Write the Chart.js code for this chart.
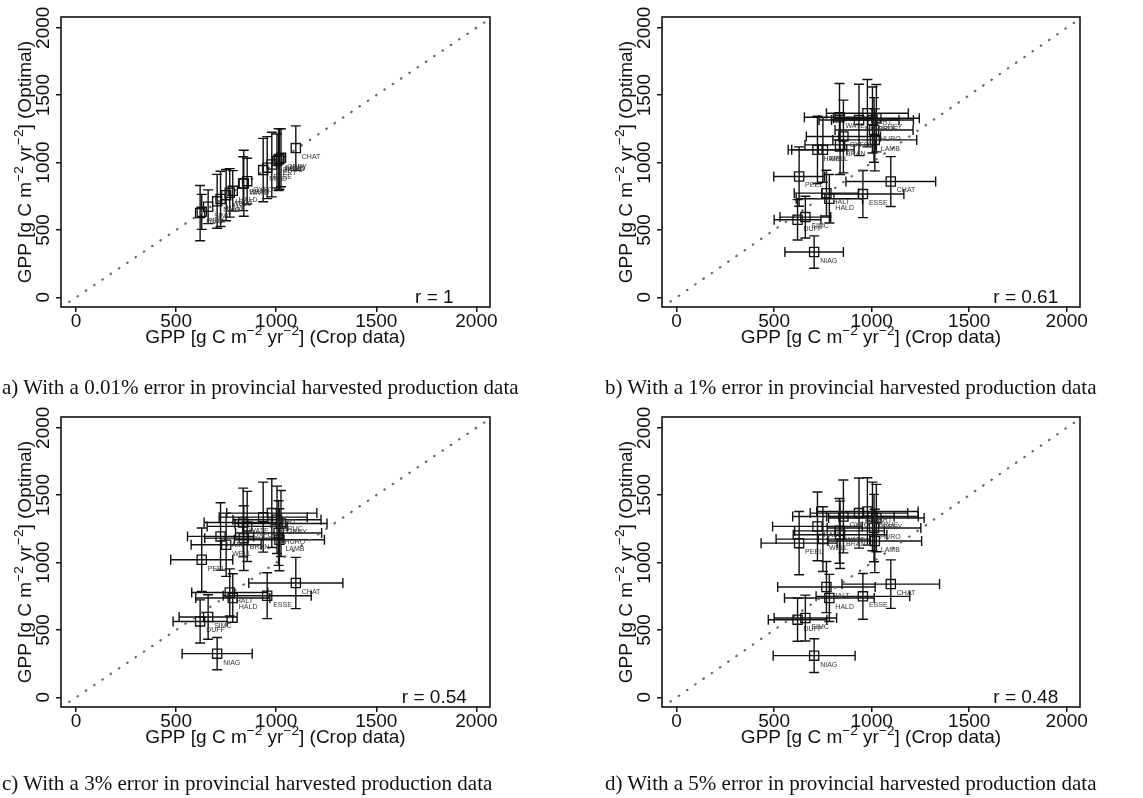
<!DOCTYPE html>
<html><head><meta charset="utf-8">
<script src="https://cdn.jsdelivr.net/npm/chart.js@4.4.0/dist/chart.umd.min.js"></script>
<style>
html,body{margin:0;padding:0;background:#fff;width:1143px;height:798px;overflow:hidden;position:relative}
canvas{position:absolute}
.cap{position:absolute;font-family:"Liberation Serif","Times New Roman",serif;font-size:21px;color:#111;white-space:nowrap;line-height:24px}
</style></head><body>
<canvas id="ca" style="left:0;top:0" width="565" height="398"></canvas>
<canvas id="cb" style="left:600px;top:0" width="543" height="398"></canvas>
<canvas id="cc" style="left:0;top:400px" width="565" height="398"></canvas>
<canvas id="cd" style="left:600px;top:400px" width="543" height="398"></canvas>
<script>
// ---- data ----
const sites = ['NIAG','DUFF','SIMC','PEEL','HALT','HALD','ESSE','CHAT','HAMI','WELL','BRAN','OXFO','WATE','MIDD','PERT','HURO','LAMB','BRUC','GREY'];
const cropX = [705,620,660,628,768,783,955,1098,722,750,838,855,835,935,978,1012,1016,1004,1024];
const optA = [712,625,672,634,775,790,962,1107,730,758,846,862,843,944,985,1022,1027,1012,1035];
const optB = [336,575,595,896,773,731,766,859,1094,1094,1131,1193,1336,1316,1366,1242,1168,1316,1329];
const optC = [324,563,596,1021,778,737,754,848,1194,1132,1181,1268,1297,1337,1367,1219,1169,1317,1290];
const optD = [309,576,588,1144,818,737,749,840,1268,1174,1206,1342,1235,1367,1379,1256,1160,1342,1330];
const xErrA = [0,0,0,0,0,0,0,0,0,0,0,0,0,0,0,0,0,0,0];
const yErrA = [200,205,125,130,180,150,230,165,205,190,245,170,200,235,240,230,225,200,215];
const xErrB = [150,120,130,130,165,170,210,230,150,160,180,190,180,205,210,200,215,210,220];
const yErrB = [120,150,155,220,170,180,175,185,250,240,220,270,250,265,250,240,230,245,250];
const xErrC = [175,135,145,155,190,185,220,235,165,175,195,200,195,220,225,215,225,220,230];
const yErrC = [120,160,165,235,175,180,170,190,250,235,240,260,255,260,255,240,230,250,245];
const xErrD = [210,150,160,195,250,230,240,250,230,240,240,260,230,250,260,240,240,235,245];
const yErrD = [125,160,170,235,190,175,170,180,255,240,250,270,240,260,250,250,235,255,250];
const xTicks = [0,500,1000,1500,2000];
const yTicks = [0,500,1000,1500,2000];
const rLabels = ['r = 1','r = 0.61','r = 0.54','r = 0.48'];
const captions = [
  'a) With a 0.01% error in provincial harvested production data',
  'b) With a 1% error in provincial harvested production data',
  'c) With a 3% error in provincial harvested production data',
  'd) With a 5% error in provincial harvested production data'
];
const oneToOne = [-200, 2200];

// ---- drawing helpers ----
const FONT = '"Liberation Sans", Arial, sans-serif';
const FS = 19;
function rich(ctx, parts, cx, cy, size) {
  let w = 0;
  parts.forEach(p => { ctx.font = (p.sup ? size*0.72 : size) + 'px ' + FONT; p.w = ctx.measureText(p.t).width; w += p.w; });
  let x = cx - w/2;
  ctx.textAlign = 'left'; ctx.textBaseline = 'alphabetic';
  parts.forEach(p => {
    ctx.font = (p.sup ? size*0.72 : size) + 'px ' + FONT;
    ctx.fillText(p.t, x, cy + size*0.36 - (p.sup ? size*0.42 : 0));
    x += p.w;
  });
}
const xTitle = [{t:'GPP [g C m'},{t:'\u22122',sup:1},{t:' yr'},{t:'\u22122',sup:1},{t:'] (Crop data)'}];
const yTitle = [{t:'GPP [g C m'},{t:'\u22122',sup:1},{t:' yr'},{t:'\u22122',sup:1},{t:'] (Optimal)'}];

const panelPlugin = {
  id: 'panel',
  beforeDatasetsDraw(chart) {
    const ctx = chart.ctx, ds = chart.data.datasets[1];
    const xs = chart.scales.x, ys = chart.scales.y, CAP = 5;
    ctx.save();
    ctx.strokeStyle = '#111'; ctx.lineWidth = 1.4;
    ds.data.forEach((p, i) => {
      const px = xs.getPixelForValue(p.x), py = ys.getPixelForValue(p.y);
      const ex = ds.errX[i], ey = ds.errY[i];
      ctx.beginPath();
      if (ey > 0) {
        const t = ys.getPixelForValue(p.y + ey), b = ys.getPixelForValue(p.y - ey);
        ctx.moveTo(px, t); ctx.lineTo(px, b);
        ctx.moveTo(px - CAP, t); ctx.lineTo(px + CAP, t);
        ctx.moveTo(px - CAP, b); ctx.lineTo(px + CAP, b);
      }
      if (ex > 0) {
        const l = xs.getPixelForValue(p.x - ex), r = xs.getPixelForValue(p.x + ex);
        ctx.moveTo(l, py); ctx.lineTo(r, py);
        ctx.moveTo(l, py - CAP); ctx.lineTo(l, py + CAP);
        ctx.moveTo(r, py - CAP); ctx.lineTo(r, py + CAP);
      }
      ctx.stroke();
    });
    ctx.restore();
  },
  afterDraw(chart) {
    const ctx = chart.ctx, ca = chart.chartArea;
    const xs = chart.scales.x, ys = chart.scales.y;
    const ds = chart.data.datasets[1];
    ctx.save();
    // box
    ctx.strokeStyle = '#111'; ctx.lineWidth = 1.6;
    ctx.strokeRect(ca.left, ca.top, ca.right - ca.left, ca.bottom - ca.top);
    // point labels
    ctx.fillStyle = '#333'; ctx.font = '7px ' + FONT;
    ctx.textAlign = 'left'; ctx.textBaseline = 'middle';
    ds.data.forEach((p, i) => {
      ctx.fillText(ds.names[i], xs.getPixelForValue(p.x) + 6, ys.getPixelForValue(p.y) + 9);
    });
    ctx.fillStyle = '#111';
    // x tick labels
    ctx.font = FS + 'px ' + FONT; ctx.textAlign = 'center'; ctx.textBaseline = 'alphabetic';
    xs.ticks.forEach(t => ctx.fillText(String(t.value), xs.getPixelForValue(t.value), ca.bottom + 13 + FS*0.36));
    // y tick labels (rotated)
    ys.ticks.forEach(t => {
      ctx.save();
      ctx.translate(ca.left - 18.5, ys.getPixelForValue(t.value));
      ctx.rotate(-Math.PI/2);
      ctx.font = FS + 'px ' + FONT; ctx.textAlign = 'center'; ctx.textBaseline = 'alphabetic';
      ctx.fillText(String(t.value), 0, FS*0.36);
      ctx.restore();
    });
    // titles
    rich(ctx, xTitle, (ca.left + ca.right)/2, ca.bottom + 29.5, FS);
    ctx.save();
    ctx.translate(ca.left - 37, (ca.top + ca.bottom)/2);
    ctx.rotate(-Math.PI/2);
    rich(ctx, yTitle, 0, 0, FS);
    ctx.restore();
    // r value
    const r = chart.options.plugins.panel.r;
    ctx.font = FS + 'px ' + FONT; ctx.textAlign = 'center'; ctx.textBaseline = 'alphabetic';
    ctx.fillText(r, xs.getPixelForValue(1790), ys.getPixelForValue(10) + FS*0.36);
    ctx.restore();
  }
};

function makeChart(id, opt, xErr, yErr, rText, padRight, yWidth) {
  const axisCommon = {
    type: 'linear',
    ticks: { display: false },
    grid: { display: true, drawOnChartArea: false, drawTicks: true, tickLength: 5, color: '#111', lineWidth: 1.5 },
    border: { display: false }
  };
  return new Chart(document.getElementById(id), {
    data: {
      datasets: [
        { type: 'line', data: oneToOne.map(v => ({x: v, y: v})), borderColor: '#666', borderWidth: 2.2,
          borderDash: [0.5, 9.5], borderCapStyle: 'round', pointRadius: 0, clip: 0, order: 2 },
        { type: 'scatter', data: cropX.map((x, i) => ({x: x, y: opt[i]})), errX: xErr, errY: yErr, names: sites,
          pointStyle: 'rect', pointRadius: 6.5, pointHoverRadius: 6.5, borderColor: '#111', borderWidth: 1.3,
          backgroundColor: 'rgba(0,0,0,0)', order: 1 }
      ]
    },
    options: {
      responsive: false, animation: false, events: [],
      layout: { padding: { left: 0, top: 17, right: padRight, bottom: 0 } },
      plugins: { legend: { display: false }, tooltip: { enabled: false }, panel: { r: rText } },
      scales: {
        x: Object.assign({}, axisCommon, { position: 'bottom', min: -75, max: 2068,
          afterBuildTicks: s => { s.ticks = xTicks.map(v => ({value: v})); },
          afterFit: s => { s.height = 91; } }),
        y: Object.assign({}, axisCommon, { position: 'left', min: -72, max: 2080,
          afterBuildTicks: s => { s.ticks = yTicks.map(v => ({value: v})); },
          afterFit: s => { s.width = yWidth; } })
      }
    },
    plugins: [panelPlugin]
  });
}

makeChart('ca', optA, xErrA, yErrA, rLabels[0], 75, 61);
makeChart('cb', optB, xErrB, yErrB, rLabels[1], 63, 62);
makeChart('cc', optC, xErrC, yErrC, rLabels[2], 75, 61);
makeChart('cd', optD, xErrD, yErrD, rLabels[3], 63, 62);

const capPos = [[2,375],[605,375],[2,771],[605,771]];
captions.forEach((c, i) => {
  const d = document.createElement('div');
  d.className = 'cap'; d.textContent = c;
  d.style.left = capPos[i][0] + 'px'; d.style.top = capPos[i][1] + 'px';
  document.body.appendChild(d);
});
</script>
</body></html>
